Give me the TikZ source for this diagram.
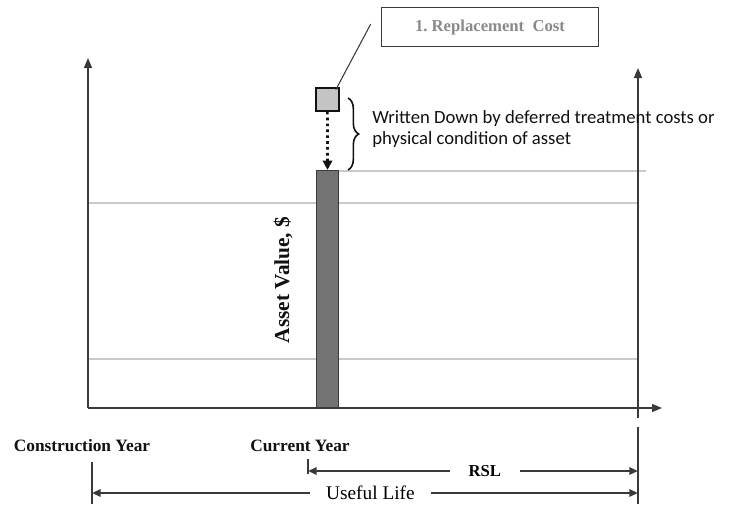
\documentclass[tikz,border=0pt]{standalone}
\usepackage{fontspec}
\setmainfont{Liberation Serif}
\newfontfamily\notefont{Carlito}
\usepackage{tikz}
\usetikzlibrary{arrows.meta,positioning,calc,decorations.pathreplacing}
\definecolor{Ink}{HTML}{111111}
\definecolor{AxisGray}{HTML}{3A3A3A}
\definecolor{GridGray}{HTML}{C9C9C9}
\definecolor{BarGray}{HTML}{737373}
\definecolor{SqGray}{HTML}{C4C4C4}
\definecolor{LabelGray}{HTML}{8A8A8A}
\tikzset{
  axis/.style={-{Triangle[length=7.5pt,width=6pt]},line width=1.1pt,draw=AxisGray},
  gridline/.style={line width=1pt,draw=GridGray},
  barbox/.style={draw=AxisGray,line width=0.8pt,fill=BarGray,inner sep=0pt},
  sqbox/.style={draw=Ink,line width=1.6pt,fill=SqGray,inner sep=0pt},
  costbox/.style={draw=AxisGray,line width=0.9pt,fill=white,text=LabelGray,font=\fontsize{12.5}{14}\selectfont\bfseries,inner sep=0pt},
  leader/.style={line width=0.8pt,draw=AxisGray},
  dotArrow/.style={-{Triangle[length=7pt,width=7pt]},line width=2pt,dash pattern=on 2pt off 2.4pt,draw=Ink},
  wbrace/.style={decorate,decoration={brace,amplitude=8pt},line width=1.2pt,draw=Ink},
  note/.style={font=\notefont\fontsize{14}{16}\selectfont,align=left,text=Ink,inner sep=0pt},
  yearlbl/.style={font=\fontsize{13}{15}\selectfont\bfseries,text=Ink,inner sep=0pt},
  dimArrow/.style={{Triangle[length=6.5pt,width=5.5pt]}-{Triangle[length=6.5pt,width=5.5pt]},line width=1.5pt,draw=AxisGray},
  ext/.style={line width=0.9pt,draw=AxisGray}
}
\begin{document}
\begin{tikzpicture}[x=0.75pt,y=-0.75pt]
\useasboundingbox (0,0) rectangle (743,504);
% axes
\coordinate (o) at (88,408);
\coordinate (ytop) at (88,58);
\coordinate (xend) at (662,408);
\coordinate (rtop) at (638,68);
\coordinate (rbot) at (638,418);
\draw[gridline] (88,203) -- (638,203);
\draw[gridline] (88,359) -- (638,359);
\draw[gridline] (338,171) -- (646,171);
\draw[axis] (o) -- (ytop);
\draw[axis] (o) -- (xend);
\draw[axis] (rbot) -- (rtop);
% asset value bar and replacement cost
\node[barbox,anchor=south west,minimum width=16.5pt,minimum height=177.75pt] (bar) at (316,408) {};
\node[sqbox,anchor=north west,minimum size=17pt] (sq) at (315,87) {};
\node[costbox,minimum width=163pt,minimum height=29pt] (rc) at (490,27) {1.\ Replacement\ \ Cost};
\draw[leader] ([xshift=-7.5pt,yshift=2.2pt]rc.west) -- ([xshift=-3pt,yshift=-2pt]sq.north east);
\draw[dotArrow] (sq.south) -- (bar.north);
\coordinate (btop) at (348,98);
\coordinate (bbot) at (348,170);
\draw[wbrace] (btop) -- (bbot);
\node[note,anchor=west] (wd) at (372,129) {Written Down by deferred treatment costs or\\physical condition of asset};
\node[rotate=90,font=\fontsize{16}{18}\selectfont\bfseries,text=Ink] (av) at (283,280) {Asset Value, \$};
% time labels
\node[yearlbl] (cy) at (82,446) {Construction Year};
\node[yearlbl] (cur) at (300,446) {Current Year};
\coordinate (rslL) at (308,471);
\coordinate (rslR) at (638,471);
\coordinate (ulL) at (92,493);
\coordinate (ulR) at (638,493);
\draw[ext] (308,459) -- (308,474);
\draw[ext] (92,462) -- (92,504);
\draw[ext] (638,427) -- (638,504);
\draw[dimArrow] (rslL) -- node[pos=0.536,fill=white,inner xsep=14pt,font=\fontsize{12.5}{14}\selectfont\bfseries] (rsl) {RSL} (rslR);
\draw[dimArrow] (ulL) -- node[pos=0.51,fill=white,inner xsep=12pt,font=\fontsize{14.5}{16}\selectfont] (ul) {Useful Life} (ulR);
\end{tikzpicture}
\end{document}
